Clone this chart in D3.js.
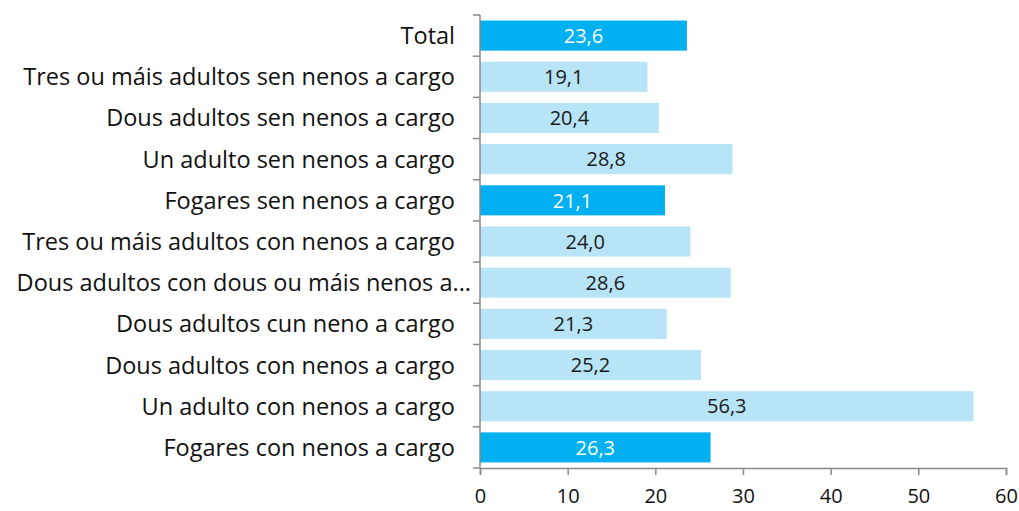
<!DOCTYPE html>
<html>
<head>
<meta charset="utf-8">
<script src="https://cdn.jsdelivr.net/npm/d3@7"></script>
<style>
    body { margin: 0; background: #fff; }
    text { font-family: "Open Sans", "Noto Sans", sans-serif; }
</style>
</head>
<body>
<svg id="bar_plot" width="1019" height="511"></svg>
<script>
// data, top to bottom
const categories = [
    "Total",
    "Tres ou máis adultos sen nenos a cargo",
    "Dous adultos sen nenos a cargo",
    "Un adulto sen nenos a cargo",
    "Fogares sen nenos a cargo",
    "Tres ou máis adultos con nenos a cargo",
    "Dous adultos con dous ou máis nenos a...",
    "Dous adultos cun neno a cargo",
    "Dous adultos con nenos a cargo",
    "Un adulto con nenos a cargo",
    "Fogares con nenos a cargo"
];
const values      = [23.6, 19.1, 20.4, 28.8, 21.1, 24.0, 28.6, 21.3, 25.2, 56.3, 26.3];
const highlighted = [true, false, false, false, true, false, false, false, false, false, true];
const xTicks      = [0, 10, 20, 30, 40, 50, 60];

const rows = categories.map((c, i) => ({ name: c, value: values[i], dark: highlighted[i] }));

const svg = d3.select("#bar_plot");

const margin = { top: 15, bottom: 43, left: 480, right: 13 };
const innerWidth  = +svg.attr("width")  - margin.left - margin.right;
const innerHeight = +svg.attr("height") - margin.top  - margin.bottom;

const chart = svg.append("g")
    .attr("transform", `translate(${margin.left},${margin.top})`);

const x = d3.scaleLinear().domain([0, 60]).range([0, innerWidth]);
const y = d3.scaleBand()
    .domain(categories)
    .range([0, innerHeight])
    .paddingInner(0.27)
    .paddingOuter(0.135);

const fmt = v => d3.format(".1f")(v).replace(".", ",");
const axisColor = "#898989";

// bars
chart.selectAll(".bar").data(rows)
    .enter().append("rect")
    .attr("class",  "bar")
    .attr("x",      0)
    .attr("y",      d => y(d.name))
    .attr("width",  d => x(d.value))
    .attr("height", y.bandwidth())
    .attr("fill",   d => d.dark ? "#00b0f0" : "#b7e4f7");

// value labels
chart.selectAll(".val").data(rows)
    .enter().append("text")
    .attr("class", "val")
    .attr("x",     d => x(d.value) / 2)
    .attr("y",     d => y(d.name) + y.bandwidth() / 2)
    .attr("dy",    "0.36em")
    .attr("text-anchor", "middle")
    .attr("font-size",   20)
    .attr("fill",  d => d.dark ? "#ffffff" : "#1a1a1a")
    .text(d => fmt(d.value));

// y axis: line with ticks at band edges
const yAxis = chart.append("g");
yAxis.append("line")
    .attr("x1", 0).attr("x2", 0)
    .attr("y1", 0).attr("y2", innerHeight)
    .attr("stroke", axisColor).attr("stroke-width", 1.5);
const step = y.step();
yAxis.selectAll(".ytick").data(d3.range(categories.length + 1))
    .enter().append("line")
    .attr("class", "ytick")
    .attr("x1", -7).attr("x2", 0)
    .attr("y1", i => i * step).attr("y2", i => i * step)
    .attr("stroke", axisColor).attr("stroke-width", 1.5);

// category labels (the truncated one sits a bit further right, as in Excel)
chart.selectAll(".cat").data(rows)
    .enter().append("text")
    .attr("class", "cat")
    .attr("x", d => d.name.endsWith("...") ? -9 : -25)
    .attr("y", d => y(d.name) + y.bandwidth() / 2)
    .attr("dy", "0.36em")
    .attr("text-anchor", "end")
    .attr("font-size", 23.5)
    .attr("fill", "#111")
    .text(d => d.name);

// x axis
const xAxis = chart.append("g")
    .attr("transform", `translate(0,${innerHeight})`)
    .call(d3.axisBottom(x).tickValues(xTicks).tickSize(7).tickPadding(14).tickFormat(d3.format("d")));
xAxis.select(".domain").attr("stroke", axisColor).attr("stroke-width", 1.5);
xAxis.selectAll(".tick line").attr("stroke", axisColor).attr("stroke-width", 1.5);
xAxis.selectAll(".tick text")
    .attr("font-size", 20)
    .attr("font-family", "'Open Sans', sans-serif")
    .attr("fill", "#111");
</script>
</body>
</html>
